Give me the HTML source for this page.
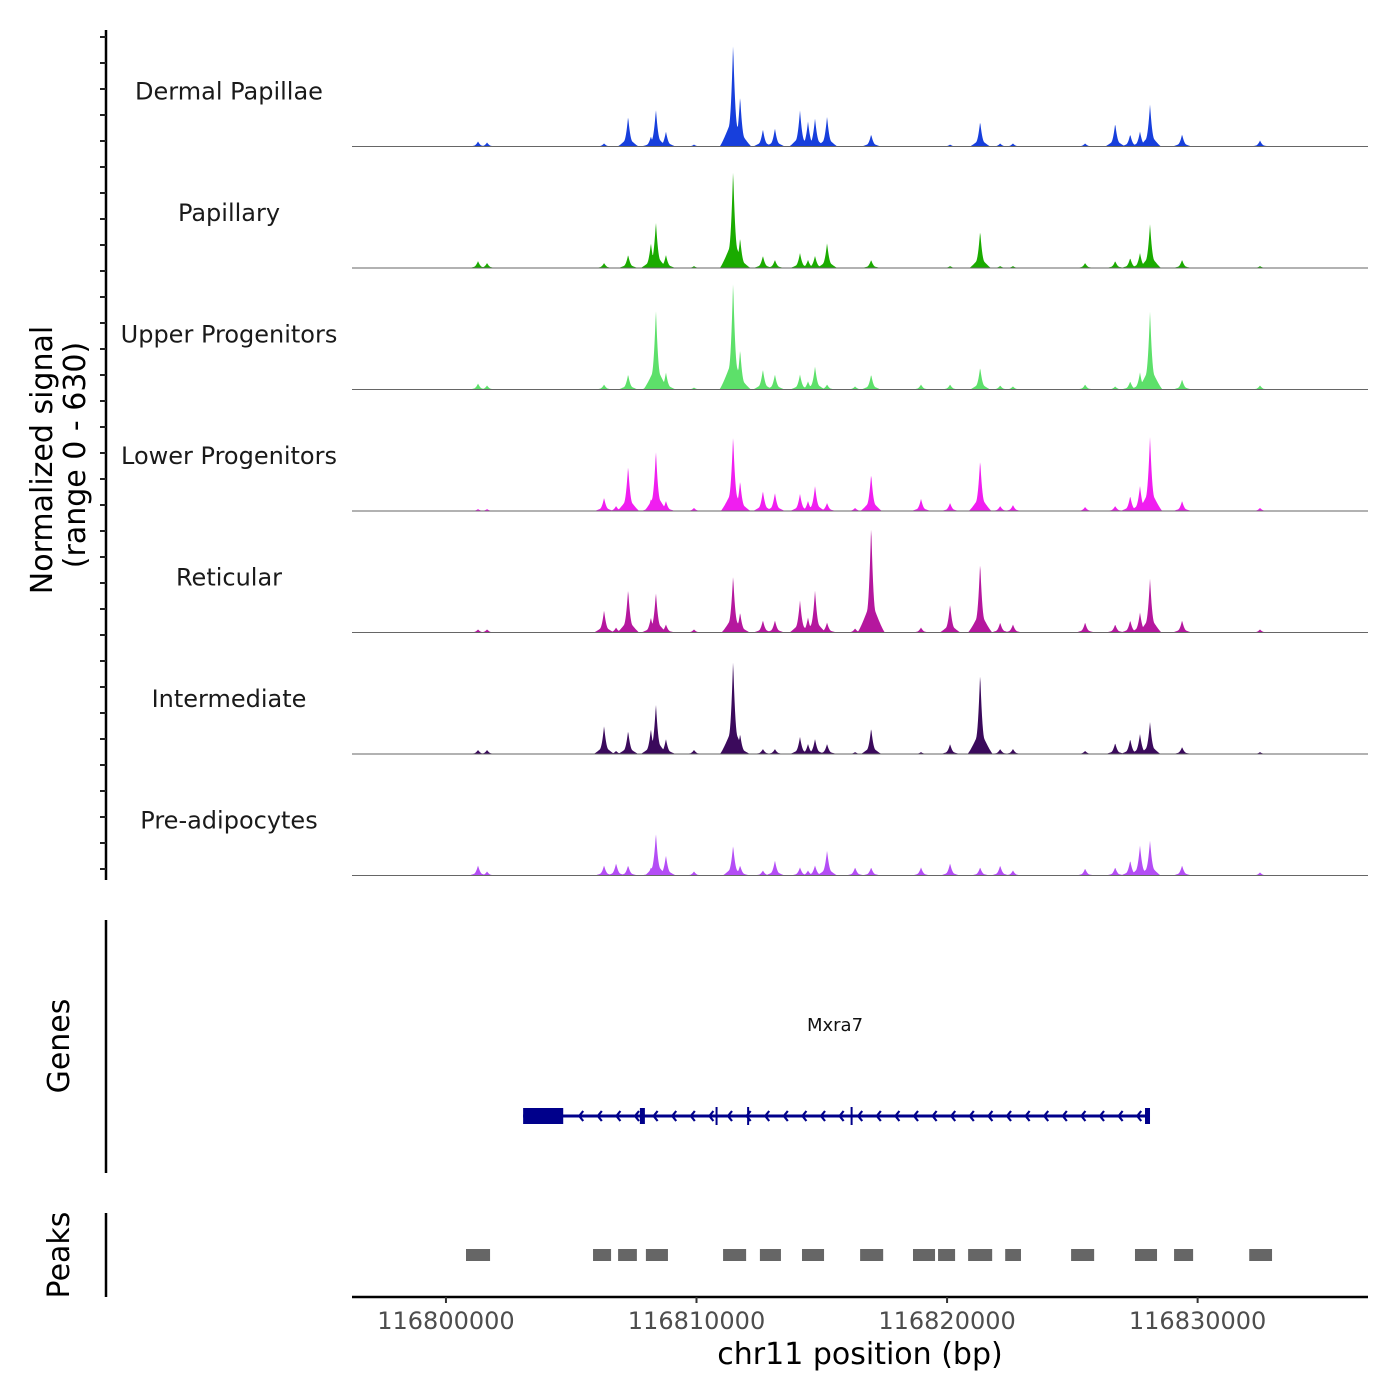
<!DOCTYPE html>
<html><head><meta charset="utf-8"><style>
body{margin:0;background:#fff}
svg{display:block;font-family:"DejaVu Sans","Liberation Sans",sans-serif}
</style></head><body>
<svg id="chart" width="1400" height="1400" viewBox="0 0 1400 1400" xmlns="http://www.w3.org/2000/svg">
<rect width="1400" height="1400" fill="#fff"/>
<g id="tracks"></g>
<g id="genes"></g>
<g id="peaks"></g>
<g id="axes"></g>
</svg>
<script>
const trackNames = ["Dermal Papillae","Papillary","Upper Progenitors","Lower Progenitors","Reticular","Intermediate","Pre-adipocytes"];
const trackColors = ["#173fdc","#1aab00","#5de06a","#f01ef0","#b5179e","#3b0a5c","#b44df5"];
const peakPosKb = [116801.28,116801.64,116806.31,116806.79,116807.27,116808.18,116808.38,116808.78,116809.90,116811.46,116811.74,116812.65,116813.13,116814.13,116814.45,116814.73,116815.21,116816.33,116816.97,116818.96,116820.12,116821.32,116822.12,116822.63,116825.51,116826.71,116827.31,116827.70,116828.10,116829.38,116832.49];
const sigDermal = [26,21,16,0,156,52,193,78,10,537,261,89,94,188,130,146,156,0,63,0,10,130,16,16,16,120,63,78,219,63,31];
const sigPapillary = [36,26,26,0,68,130,240,68,10,511,156,63,42,78,42,63,130,0,42,0,10,193,10,10,26,36,52,78,229,42,10];
const sigUpper = [31,21,26,0,78,63,417,89,10,563,208,104,78,78,42,120,26,16,78,26,26,115,21,16,26,16,42,89,406,52,21];
const sigLower = [10,10,68,26,234,63,313,52,16,391,156,104,94,89,52,130,42,16,193,63,42,266,26,31,21,26,78,130,386,52,16];
const sigReticular = [16,16,115,26,224,78,208,42,16,297,104,63,63,167,78,219,52,21,563,26,146,365,52,42,52,42,63,104,281,63,16];
const sigIntermediate = [21,21,146,16,120,130,261,78,21,490,104,26,26,89,52,78,52,10,135,10,52,422,26,26,16,57,78,104,167,36,10];
const sigPreadipo = [52,21,52,63,52,42,219,104,21,156,52,26,78,42,26,52,130,42,42,42,63,42,52,26,36,42,78,156,182,52,16];
const allSignals = [sigDermal,sigPapillary,sigUpper,sigLower,sigReticular,sigIntermediate,sigPreadipo];
const xTicks = [116800000,116810000,116820000,116830000];
const peakStartsKb = [116800.80,116805.87,116806.87,116807.98,116811.06,116812.53,116814.21,116816.53,116818.64,116819.64,116820.84,116822.32,116824.95,116827.50,116829.06,116832.06];
const peakEndsKb = [116801.76,116806.59,116807.62,116808.86,116811.98,116813.37,116815.09,116817.45,116819.52,116820.32,116821.80,116822.95,116825.87,116828.38,116829.82,116832.97];
const geneStartKb = 116803.08, geneEndKb = 116828.04;
const geneUtrEndKb = 116804.68;
const geneExonsKb = [116807.84,116828.0];
const geneMarksKb = [116810.80,116812.06,116816.19];

const NS="http://www.w3.org/2000/svg";
const X0=352,X1=1368, D0=116796250, D1=116836800;
const sx = bp => X0+(bp-D0)/(D1-D0)*(X1-X0);
const TRACK_H=121.5, TOP=25, YMAX=630;
function el(tag,attrs,parent){const e=document.createElementNS(NS,tag);for(const k in attrs)e.setAttribute(k,attrs[k]);parent.appendChild(e);return e;}
const gT=document.getElementById('tracks');
allSignals.forEach((sig,ti)=>{
  const base=TOP+TRACK_H*(ti+1);
  const sy=v=>base-v/YMAX*TRACK_H;
  const g=el('g',{},gT);
  
  
  let d='M'+X0+','+base;
  for(let px=X0;px<=X1;px+=0.5){
    const bp=D0+(px-X0)/(X1-X0)*(D1-D0);
    let v=0;
    peakPosKb.forEach((kb,i)=>{const dd=Math.abs(bp-kb*1000);
      const w1=170, w2=380+sig[i]*0.3;
      let s=0;
      if(dd<w1) s+=0.7*Math.pow(1-dd/w1,2)*sig[i];
      if(dd<w2) s+=0.3*Math.pow(1-dd/w2,1.2)*sig[i];
      if(s>v)v=s;});
    d+=' L'+px.toFixed(1)+','+sy(v).toFixed(2);
  }
  d+=' L'+X1+','+base+' Z';
  const p=el('path',{d:d,fill:trackColors[ti]},g);
  
  
  const l=el('line',{x1:X0,x2:X1,y1:base,y2:base,stroke:'#666','stroke-width':1},g);
  
  
  const t=el('text',{x:229,y:base-47,'font-size':24,'text-anchor':'middle',fill:'#1a1a1a'},g);
  t.textContent=trackNames[ti];
  
  
});
// genes
const gG=document.getElementById('genes');
const GY=1116;
let e=el('line',{x1:sx(geneStartKb*1000),x2:sx(geneEndKb*1000),y1:GY,y2:GY,stroke:'#00008b','stroke-width':3},gG);

e=el('rect',{x:sx(geneStartKb*1000),y:GY-8,width:sx(geneUtrEndKb*1000)-sx(geneStartKb*1000),height:16,fill:'#00008b'},gG);

geneExonsKb.forEach(kb=>{const r=el('rect',{x:sx(kb*1000)-2.5,y:GY-8,width:5,height:16,fill:'#00008b'},gG);
});
geneMarksKb.forEach(kb=>{const r=el('line',{x1:sx(kb*1000),x2:sx(kb*1000),y1:GY-9,y2:GY+9,stroke:'#00008b','stroke-width':2},gG);
});
for(let x=sx(geneUtrEndKb*1000)+16;x<sx(geneEndKb*1000)-4;x+=18.6){
  const a=el('polyline',{points:(x+4)+','+(GY-5)+' '+x+','+GY+' '+(x+4)+','+(GY+5),fill:'none',stroke:'#00008b','stroke-width':2.2},gG);
  
}
e=el('text',{x:835,y:1031,'font-size':18,'text-anchor':'middle',fill:'#111'},gG);e.textContent='Mxra7';

// peaks
const gP=document.getElementById('peaks');
peakStartsKb.forEach((s,i)=>{const r=el('rect',{x:sx(s*1000),y:1249,width:sx(peakEndsKb[i]*1000)-sx(s*1000),height:12,fill:'#666'},gP);
});
// axes
const gA=document.getElementById('axes');
e=el('line',{x1:106,x2:106,y1:30,y2:880,stroke:'#000','stroke-width':2.5},gA);

for(let y=37;y<=878;y+=26){const t=el('line',{x1:100,x2:106,y1:y,y2:y,stroke:'#222','stroke-width':2},gA);
}
e=el('line',{x1:106,x2:106,y1:920,y2:1173,stroke:'#000','stroke-width':2.5},gA);

e=el('line',{x1:106,x2:106,y1:1213,y2:1297,stroke:'#000','stroke-width':2.5},gA);

e=el('line',{x1:X0,x2:X1,y1:1297,y2:1297,stroke:'#000','stroke-width':2.5},gA);

xTicks.forEach(v=>{const x=sx(v);
  const t=el('line',{x1:x,x2:x,y1:1297,y2:1303,stroke:'#333','stroke-width':2},gA);
  
  const tx=el('text',{x:x,y:1329,'font-size':24,'text-anchor':'middle',fill:'#4d4d4d'},gA);tx.textContent=String(v);
  });
e=el('text',{x:860,y:1364,'font-size':30,'text-anchor':'middle',fill:'#000'},gA);e.textContent='chr11 position (bp)';

e=el('text',{transform:'translate(52,460) rotate(-90)','font-size':30,'text-anchor':'middle',fill:'#000'},gA);e.textContent='Normalized signal';

e=el('text',{transform:'translate(85,455) rotate(-90)','font-size':30,'text-anchor':'middle',fill:'#000'},gA);e.textContent='(range 0 - 630)';

e=el('text',{transform:'translate(69,1046) rotate(-90)','font-size':30,'text-anchor':'middle',fill:'#000'},gA);e.textContent='Genes';

e=el('text',{transform:'translate(69,1255) rotate(-90)','font-size':30,'text-anchor':'middle',fill:'#000'},gA);e.textContent='Peaks';

</script>
</body></html>
